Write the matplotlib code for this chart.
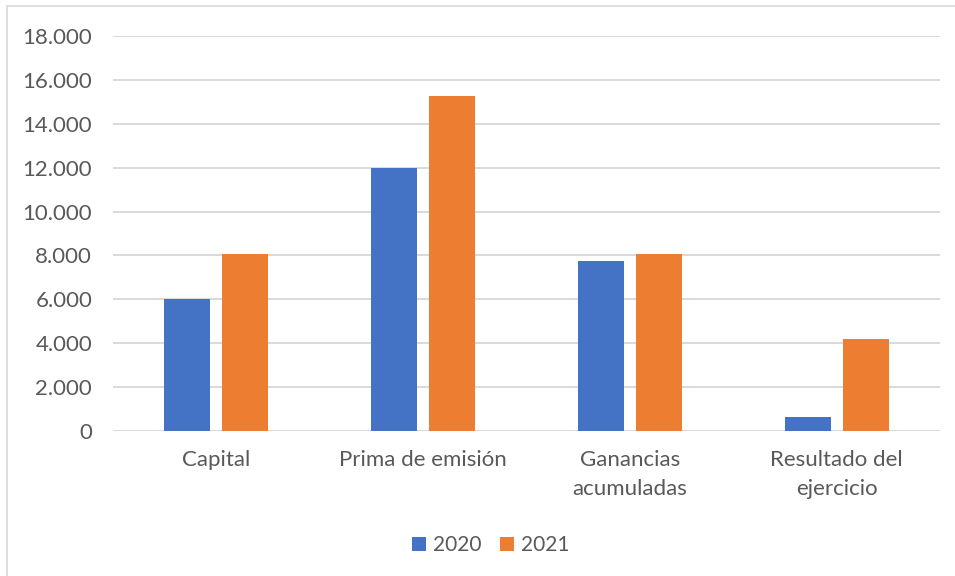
import matplotlib.pyplot as plt
from matplotlib.ticker import FuncFormatter, MultipleLocator
from matplotlib.patches import Rectangle
import numpy as np

# -------- Data --------
categories = ["Capital", "Prima de emisión", "Ganancias\nacumuladas", "Resultado del\nejercicio"]
values_2020 = [6000, 12000, 7750, 650]
values_2021 = [8050, 15250, 8050, 4200]
series_names = ["2020", "2021"]

# -------- Style --------
BLUE = "#4472C4"
ORANGE = "#ED7D31"
GRID = "#D9D9D9"
TEXT = "#595959"
plt.rcParams['font.family'] = ['Lato', 'DejaVu Sans']

fig = plt.figure(figsize=(9.55, 5.76), dpi=100)
ax = fig.add_axes([113 / 955, 1 - 431 / 576, 827 / 955, 395 / 576])

# outer chart border (top + left visible)
fig.patches.append(Rectangle((7 / 955, -0.1), 1.1, 1 - 6 / 576 + 0.1, transform=fig.transFigure,
                             fill=False, edgecolor=GRID, linewidth=1.2))

x = np.arange(len(categories))
w = 0.222
ax.bar(x - 0.14, values_2020, w, color=BLUE, label=series_names[0], zorder=3)
ax.bar(x + 0.14, values_2021, w, color=ORANGE, label=series_names[1], zorder=3)

ax.set_xlim(-0.5, 3.5)
ax.set_ylim(0, 18000)
ax.yaxis.set_major_locator(MultipleLocator(2000))
ax.yaxis.set_major_formatter(FuncFormatter(lambda v, p: f"{int(v):,}".replace(",", ".")))
ax.grid(axis="y", color=GRID, linewidth=1.4, zorder=0)
ax.set_axisbelow(True)
for s in ax.spines.values():
    s.set_visible(False)

ax.set_xticks(x)
ax.set_xticklabels(categories, linespacing=1.55)
ax.tick_params(axis="both", length=0, labelsize=16, colors=TEXT)
ax.tick_params(axis="y", pad=15)
ax.tick_params(axis="x", pad=14)

leg = fig.legend(loc="center", bbox_to_anchor=(491 / 955, 1 - 545 / 576), ncol=2, frameon=False,
                 fontsize=15, handlelength=0.65, handleheight=0.65, handletextpad=0.35,
                 columnspacing=0.9)
for t in leg.get_texts():
    t.set_color(TEXT)

plt.savefig("out.png", dpi=100)
